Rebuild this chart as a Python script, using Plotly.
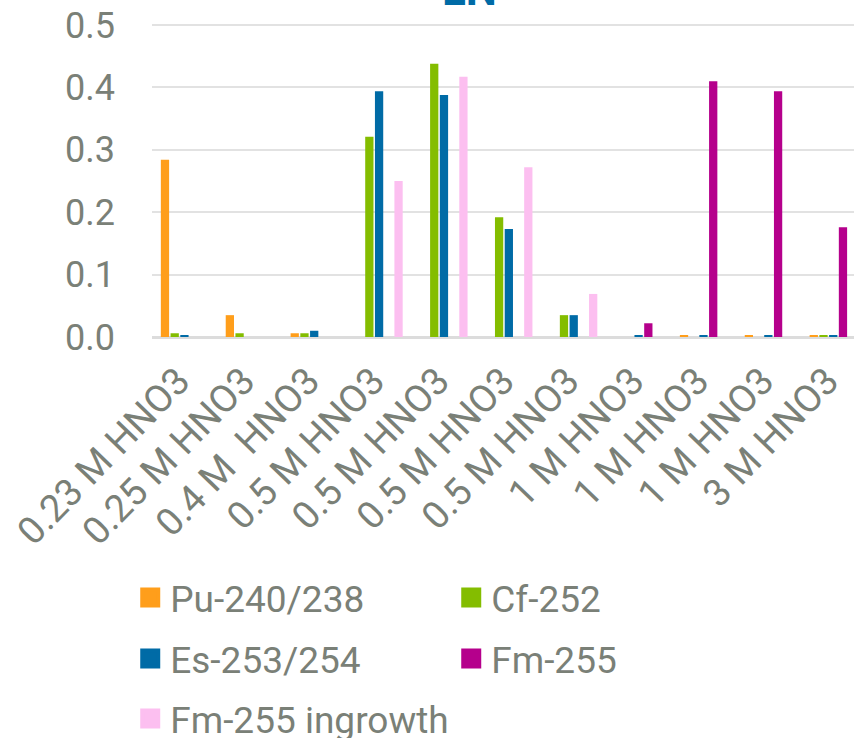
import plotly.graph_objects as go

categories = ["0.23 M HNO3", "0.25 M HNO3", "0.4 M  HNO3", "0.5 M HNO3", "0.5 M HNO3",
              "0.5 M HNO3", "0.5 M HNO3", "1 M HNO3", "1 M HNO3", "1 M HNO3", "3 M HNO3"]
pu = [0.284, 0.035, 0.006, None, None, None, None, None, 0.003, 0.003, 0.003]
cf = [0.006, 0.006, 0.006, 0.321, 0.438, 0.192, 0.035, None, None, None, 0.003]
es = [0.003, None, 0.010, 0.394, 0.388, 0.173, 0.035, 0.003, 0.003, 0.003, 0.003]
fm = [None, None, None, None, None, None, None, 0.022, 0.410, 0.394, 0.176]
ingrowth = [None, None, None, 0.250, 0.417, 0.272, 0.069, None, None, None, None]

series = [
    ("Pu-240/238", pu, "#FF9E1B", "legend"),
    ("Cf-252", cf, "#84BD00", "legend"),
    ("Es-253/254", es, "#006BA6", "legend2"),
    ("Fm-255", fm, "#B5008C", "legend2"),
    ("Fm-255 ingrowth", ingrowth, "#FCBFF0", "legend3"),
]

GRAY = "#7a8077"
FONT = "Roboto"
pos = list(range(len(categories)))

fig = go.Figure()
for name, vals, color, leg in series:
    fig.add_trace(go.Bar(x=pos, y=vals, name=name, marker_color=color,
                         showlegend=False, legendgroup=name))
for name, vals, color, leg in series:
    fig.add_trace(go.Scatter(x=[None], y=[None], mode="markers", name=name,
                             legendgroup=name, legend=leg,
                             marker=dict(symbol="square", size=16, color=color,
                                         line=dict(width=4, color=color))))

legend_common = dict(orientation="h", xref="container", yref="container",
                     x=0.1525, xanchor="left", yanchor="top",
                     entrywidth=276, font=dict(family=FONT, size=37, color=GRAY),
                     bgcolor="rgba(0,0,0,0)", borderwidth=0, traceorder="normal")

fig.update_layout(
    template="none",
    width=854, height=738,
    margin=dict(l=152, r=0, t=13, b=401, pad=0, autoexpand=False),
    paper_bgcolor="white", plot_bgcolor="white",
    barmode="group", bargap=0.25, bargroupgap=0.15,
    font=dict(family=FONT, size=36, color=GRAY),
    legend=dict(legend_common, y=1 - 567 / 738),
    legend2=dict(legend_common, y=1 - 628 / 738),
    legend3=dict(legend_common, y=1 - 688 / 738),
    xaxis=dict(range=[-0.5, 10.32], tickmode="array", tickvals=pos, ticktext=categories,
               tickangle=-46, showgrid=False, zeroline=False, showline=False,
               automargin=False, ticks="", ticklabelstandoff=13, ticklabelshift=-6,
               tickfont=dict(family=FONT, size=38, color=GRAY)),
    yaxis=dict(range=[0, 324 / 624], tickmode="array", tickvals=[0, 0.1, 0.2, 0.3, 0.4, 0.5],
               tickformat=".1f", showgrid=True, gridcolor="#e2e2e2", gridwidth=2,
               zeroline=True, zerolinecolor="#dcdcdc", zerolinewidth=3,
               showline=False, automargin=False, ticks="", ticklabelstandoff=36,
               tickfont=dict(family=FONT, size=36, color=GRAY)),
    annotations=[dict(text="<b>LN</b>", xref="paper", yref="paper",
                      x=(469 - 152) / 702, y=1 + (13 + 9.6) / 324,
                      xanchor="center", yanchor="middle", showarrow=False,
                      font=dict(family=FONT, size=44, color="#006BA6"))],
)

fig.write_html("out.html", config={"displayModeBar": False},
               post_script="document.body.style.margin='0';document.body.style.overflow='hidden';")
